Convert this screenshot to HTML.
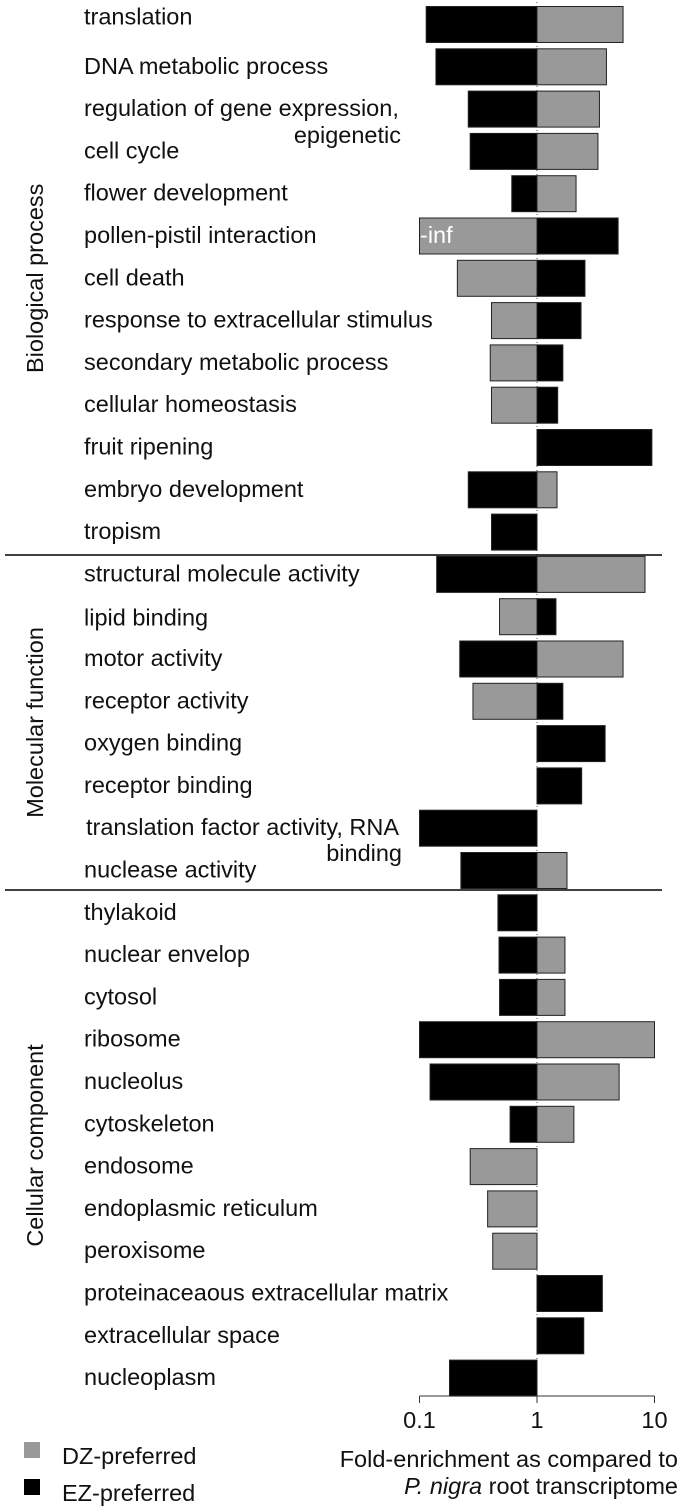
<!DOCTYPE html>
<html><head><meta charset="utf-8"><style>
body{margin:0;background:#fff;font-family:"Liberation Sans",Arial,sans-serif}
svg text{font-family:"Liberation Sans",Arial,sans-serif}
</style></head><body>
<svg id="chart" width="680" height="1506" xmlns="http://www.w3.org/2000/svg"></svg>
<script>
const categories=["translation","DNA metabolic process","regulation of gene expression,","cell cycle","flower development","pollen-pistil interaction","cell death","response to extracellular stimulus","secondary metabolic process","cellular homeostasis","fruit ripening","embryo development","tropism","structural molecule activity","lipid binding","motor activity","receptor activity","oxygen binding","receptor binding","translation factor activity, RNA","nuclease activity","thylakoid","nuclear envelop","cytosol","ribosome","nucleolus","cytoskeleton","endosome","endoplasmic reticulum","peroxisome","proteinaceaous extracellular matrix","extracellular space","nucleoplasm"];
// left-side values (<1), null = none
const leftValues=[0.114,0.138,0.26,0.27,0.61,0.1,0.21,0.41,0.4,0.41,null,0.26,0.41,0.14,0.48,0.22,0.285,null,null,0.1,0.225,0.465,0.475,0.48,0.1,0.123,0.59,0.27,0.38,0.42,null,null,0.18];
// left series: "EZ" black, "DZ" gray
const leftSeries=["EZ","EZ","EZ","EZ","EZ","DZ","DZ","DZ","DZ","DZ",null,"EZ","EZ","EZ","DZ","EZ","DZ",null,null,"EZ","EZ","EZ","EZ","EZ","EZ","EZ","EZ","DZ","DZ","DZ",null,null,"EZ"];
const rightValues=[5.4,3.9,3.4,3.3,2.15,4.9,2.56,2.37,1.66,1.5,9.5,1.48,null,8.3,1.45,5.4,1.66,3.8,2.4,null,1.8,null,1.73,1.73,10,5.0,2.06,null,null,null,3.6,2.5,null];
const rightSeries=["DZ","DZ","DZ","DZ","DZ","EZ","EZ","EZ","EZ","EZ","EZ","DZ",null,"DZ","EZ","DZ","EZ","EZ","EZ",null,"DZ",null,"DZ","DZ","DZ","DZ","DZ",null,null,null,"EZ","EZ",null];
const tickValues=[0.1,1,10];
const tickLabels=["0.1","1","10"];
const groups=["Biological process","Molecular function","Cellular component"];
const groupRanges=[[0,12],[13,20],[21,32]];

const svg=document.getElementById('chart');
const NS="http://www.w3.org/2000/svg";
const x=v=>537+117.5*Math.log10(v);
const y=i=>24.5+i*42.3;
const BH=36;
const FS=23.5;
const colors={EZ:"#000",DZ:"#999"};
function mk(t,a,txt){const e=document.createElementNS(NS,t);for(const k in a)e.setAttribute(k,a[k]);if(txt!==undefined)e.textContent=txt;svg.appendChild(e);return e;}

let c=mk('line',{x1:x(1),x2:x(1),y1:2,y2:1396,stroke:"#555","stroke-width":1,"stroke-dasharray":"1,3"});



categories.forEach((cat,i)=>{
  const cy=y(i);
  if(leftValues[i]!=null){
    const r=mk('rect',{x:x(leftValues[i]),y:cy-BH/2,width:x(1)-x(leftValues[i]),height:BH,fill:colors[leftSeries[i]],stroke:"#222","stroke-width":1});
    
    
  }
  if(rightValues[i]!=null){
    const r=mk('rect',{x:x(1),y:cy-BH/2,width:x(rightValues[i])-x(1),height:BH,fill:colors[rightSeries[i]],stroke:"#222","stroke-width":1});
    
    
  }
  const lx=(i===19)?86:84;
  const dy=(i===0)?0:(i===14?9:7);
  const t=mk('text',{x:lx,y:cy+dy,"font-size":FS,fill:"#111"},cat);
  
  
});
let t2=mk('text',{x:401,y:143,"font-size":FS,"text-anchor":"end",fill:"#111"},"epigenetic");


let t3=mk('text',{x:402,y:861,"font-size":FS,"text-anchor":"end",fill:"#111"},"binding");


let inf=mk('text',{x:420,y:y(5)+7,"font-size":FS,fill:"#fff"},"-inf");



[555,890].forEach(sy=>{
  const l=mk('line',{x1:5,x2:662,y1:sy,y2:sy,stroke:"#000","stroke-width":1.5});
  
  
});
groups.forEach((g,k)=>{
  const cy=(y(groupRanges[k][0])+y(groupRanges[k][1]))/2;
  const t=mk('text',{x:0,y:0,"font-size":FS,"text-anchor":"middle",fill:"#111",transform:`translate(43,${cy}) rotate(-90)`},g);
  
  
});

let ax=mk('line',{x1:x(0.1),x2:x(10),y1:1396,y2:1396,stroke:"#333","stroke-width":1});


tickValues.forEach((v,k)=>{
  const tk=mk('line',{x1:x(v),x2:x(v),y1:1396,y2:1403,stroke:"#333"});
  
  
  const tl=mk('text',{x:x(v),y:1428,"font-size":FS,"text-anchor":"middle",fill:"#111"},tickLabels[k]);
  
  
});
let at1=mk('text',{x:678,y:1467,"font-size":FS,"text-anchor":"end",fill:"#111"},"Fold-enrichment as compared to");


let at2=mk('text',{x:678,y:1494,"font-size":FS,"text-anchor":"end",fill:"#111"});


at2.innerHTML='<tspan font-style="italic">P. nigra</tspan> root transcriptome';

[["DZ-preferred","#999",1464],["EZ-preferred","#000",1501]].forEach(([lab,col,ly])=>{
  const s=mk('rect',{x:24,y:ly-22,width:16,height:16,fill:col});
  
  
  const t=mk('text',{x:62,y:ly,"font-size":FS,fill:"#111"},lab);
  
  
});
</script>
</body></html>
